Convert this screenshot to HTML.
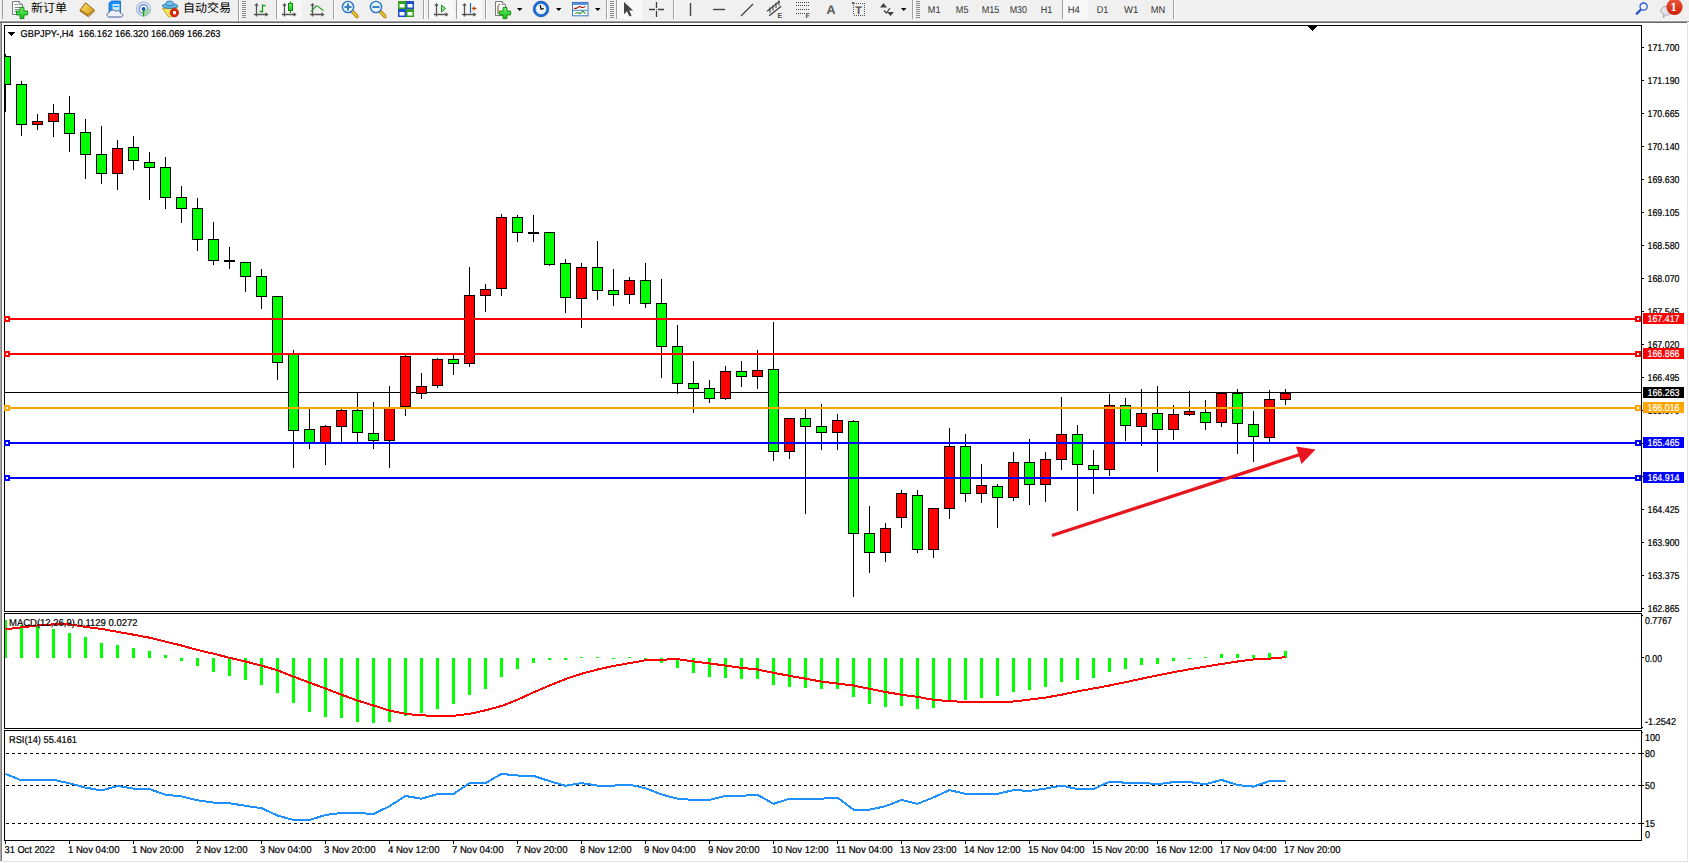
<!DOCTYPE html><html><head><meta charset="utf-8"><title>GBPJPY-,H4</title>
<style>html,body{margin:0;padding:0;background:#fff;overflow:hidden;width:1689px;height:863px}svg{display:block}text{font-family:'Liberation Sans', 'Noto Sans CJK SC', sans-serif;text-rendering:geometricPrecision}</style></head><body>
<svg width="1689" height="863" viewBox="0 0 1689 863">
<rect width="1689" height="863" fill="#fff"/>
<rect x="0" y="0" width="1689" height="21" fill="#f0f0f0"/>
<rect x="0" y="20" width="1689" height="1" fill="#f7f7f7"/>
<rect x="0" y="21" width="1689" height="1" fill="#9c9c9c"/>
<rect x="0" y="22" width="1687" height="1" fill="#6a6a6a"/>
<rect x="0" y="23" width="1" height="838" fill="#a8a8a8"/>
<rect x="1" y="23" width="1" height="838" fill="#7a7a7a"/>
<rect x="1687" y="23" width="1" height="839" fill="#e3e3e3"/>
<rect x="0" y="861" width="1688" height="1" fill="#e3e3e3"/>
<g id="toolbar"><defs><pattern id="dith" width="2" height="2" patternUnits="userSpaceOnUse"><rect width="2" height="2" fill="#f4f4f4"/><rect width="1" height="1" fill="#fdfdfd"/><rect x="1" y="1" width="1" height="1" fill="#fdfdfd"/></pattern><linearGradient id="gplus" x1="0" y1="0" x2="0" y2="1"><stop offset="0" stop-color="#6cf76c"/><stop offset="1" stop-color="#10c010"/></linearGradient><linearGradient id="gold" x1="0" y1="0" x2="1" y2="1"><stop offset="0" stop-color="#fbe36a"/><stop offset="1" stop-color="#d89a10"/></linearGradient><linearGradient id="badge" x1="0" y1="0" x2="0" y2="1"><stop offset="0" stop-color="#e9583a"/><stop offset="1" stop-color="#cf1e08"/></linearGradient><radialGradient id="radar" cx="0.5" cy="0.5" r="0.5"><stop offset="0.3" stop-color="#3a66cc"/><stop offset="1" stop-color="#b8c8e8"/></radialGradient></defs><rect x="2" y="0" width="1" height="19" fill="#a0a0a0"/><path d="M12.5 1.5H19L22.5 4.5V14.5H12.5Z" fill="#fff" stroke="#7a7a7a"/><path d="M19 1.5V4.5H22.5" fill="#ddd" stroke="#7a7a7a" stroke-width="0.8"/><path d="M14.5 4.5h3M14.5 7.5h6M14.5 9.5h5M14.5 11.5h3" stroke="#888" stroke-width="1"/><path d="M20.1 7.4H23.9V11.1H27.6V14.9H23.9V18.6H20.1V14.9H16.4V11.1H20.1Z" fill="url(#gplus)" stroke="#138a13" stroke-width="1"/><text x="31" y="11.8" font-size="12" fill="#000" style="font-family:'Liberation Sans','Noto Sans CJK SC','WenQuanYi Zen Hei',sans-serif">新订单</text><path d="M80 11L88.5 16.8L94.6 11.2L94 9.8L88 15.2L80.2 9.8Z" fill="#f3e2a8" stroke="#9a5a0c" stroke-width="0.9" stroke-linejoin="round"/><path d="M80.2 9.8L85.6 2.8L94 9.8L88 15.2Z" fill="url(#gold)" stroke="#9a5a0c" stroke-width="1" stroke-linejoin="round"/><path d="M109 3L111.5 1H120.5V12H109Z" fill="#1a8ef4" stroke="#0d66c8" stroke-width="0.8"/><path d="M112.5 4H119.5V11H112.5Z" fill="#cfe9ff"/><path d="M113.5 6.5H118.5" stroke="#1a8ef4" stroke-width="1.2"/><path d="M109.5 17C106.3 17 106.3 12.8 109.3 12.6C109.6 9.6 114.2 9 115.3 11.4C117 9.8 120.6 10.6 120.4 13.2C123.6 13.2 123.6 17 120.8 17Z" fill="#eef2f8" stroke="#46609e" stroke-width="1"/><circle cx="143.5" cy="9" r="7" fill="none" stroke="#9ab4e4" stroke-width="1.2"/><circle cx="143.5" cy="9" r="4.4" fill="none" stroke="#5a86d8" stroke-width="1.2"/><path d="M143.5 9L150.6 9A7.1 7.1 0 0 1 143.5 16.1Z" fill="#9cd49c" opacity="0.85"/><circle cx="143.5" cy="9" r="1.9" fill="#1f4fc8"/><path d="M143.5 9.5V16.5" stroke="#18a018" stroke-width="1.4"/><path d="M162.6 8.6L177.6 7.6L171.2 16.8L168.4 16.8Z" fill="#f7e05a" stroke="#c49a14" stroke-width="0.9" stroke-linejoin="round"/><ellipse cx="170" cy="5.9" rx="7.7" ry="2.5" fill="#64b4e4" stroke="#2a7cae" stroke-width="0.9"/><ellipse cx="169.6" cy="3.4" rx="3.7" ry="2.4" fill="#78c4ee" stroke="#2a7cae" stroke-width="0.9"/><circle cx="174.4" cy="12.7" r="4.2" fill="#dc2a0e" stroke="#a81806" stroke-width="0.7"/><rect x="173" y="11.2" width="3" height="3" fill="#fff"/><text x="183" y="11.8" font-size="12" fill="#000" style="font-family:'Liberation Sans','Noto Sans CJK SC','WenQuanYi Zen Hei',sans-serif">自动交易</text><rect x="238" y="0" width="1" height="21" fill="#a0a0a0"/><rect x="239" y="0" width="1" height="21" fill="#fff"/><rect x="242" y="1" width="4" height="1" fill="#8c8c8c"/><rect x="242" y="3" width="4" height="1" fill="#8c8c8c"/><rect x="242" y="5" width="4" height="1" fill="#8c8c8c"/><rect x="242" y="7" width="4" height="1" fill="#8c8c8c"/><rect x="242" y="9" width="4" height="1" fill="#8c8c8c"/><rect x="242" y="11" width="4" height="1" fill="#8c8c8c"/><rect x="242" y="13" width="4" height="1" fill="#8c8c8c"/><rect x="242" y="15" width="4" height="1" fill="#8c8c8c"/><rect x="242" y="17" width="4" height="1" fill="#8c8c8c"/><path d="M256.5 16.5V3.8M254 14.5H267.5" stroke="#555" stroke-width="1.3" fill="none"/><path d="M254.3 5.8L256.5 3L258.7 5.8Z" fill="#555"/><path d="M265.5 12.3L268.5 14.5L265.5 16.7Z" fill="#555"/><path d="M262.5 4.5V12.5M259.5 11.5H262.5M262.5 5.5H265.5" stroke="#1a9a1a" stroke-width="1.3" fill="none"/><rect x="276" y="0" width="1" height="19" fill="#a0a0a0"/><rect x="277" y="0" width="1" height="19" fill="#fff"/><rect x="277" y="0" width="25" height="19" fill="url(#dith)"/><path d="M284.5 16.5V3.8M282 14.5H295.5" stroke="#555" stroke-width="1.3" fill="none"/><path d="M282.3 5.8L284.5 3L286.7 5.8Z" fill="#555"/><path d="M293.5 12.3L296.5 14.5L293.5 16.7Z" fill="#555"/><path d="M290.5 1.5V13" stroke="#138a13" stroke-width="1.2"/><rect x="288.5" y="3.5" width="4" height="7" fill="url(#gplus)" stroke="#138a13" stroke-width="1"/><path d="M312.5 16.5V3.8M310 14.5H323.5" stroke="#555" stroke-width="1.3" fill="none"/><path d="M310.3 5.8L312.5 3L314.7 5.8Z" fill="#555"/><path d="M321.5 12.3L324.5 14.5L321.5 16.7Z" fill="#555"/><path d="M311 11.5C314 8.5 315.5 5.5 317.5 6C319.5 6.5 320.5 9.5 323.5 10.5" stroke="#2a9a2a" stroke-width="1.2" fill="none"/><rect x="333" y="0" width="1" height="19" fill="#a0a0a0"/><rect x="334" y="0" width="1" height="19" fill="#fff"/><line x1="352" y1="11" x2="357" y2="16.5" stroke="#b07800" stroke-width="3.4" stroke-linecap="round"/><line x1="352" y1="11" x2="357" y2="16.5" stroke="#f0d040" stroke-width="1.8" stroke-linecap="round"/><circle cx="348" cy="7" r="5.6" fill="#e4f4ff" stroke="#2a70c8" stroke-width="1.4"/><rect x="344.5" y="6" width="7" height="2" fill="#3a80b8"/><rect x="347" y="3.5" width="2" height="7" fill="#3a80b8"/><line x1="380" y1="11" x2="385" y2="16.5" stroke="#b07800" stroke-width="3.4" stroke-linecap="round"/><line x1="380" y1="11" x2="385" y2="16.5" stroke="#f0d040" stroke-width="1.8" stroke-linecap="round"/><circle cx="376" cy="7" r="5.6" fill="#e4f4ff" stroke="#2a70c8" stroke-width="1.4"/><rect x="372.5" y="6" width="7" height="2" fill="#3a80b8"/><rect x="398" y="1" width="8" height="8" fill="#35a020"/><rect x="399.5" y="4" width="5" height="3.5" fill="#fff"/><rect x="406" y="1" width="8" height="8" fill="#1f4fd0"/><rect x="407.5" y="4" width="5" height="3.5" fill="#fff"/><rect x="398" y="9" width="8" height="8" fill="#1f4fd0"/><rect x="399.5" y="12" width="5" height="3.5" fill="#fff"/><rect x="406" y="9" width="8" height="8" fill="#35a020"/><rect x="407.5" y="12" width="5" height="3.5" fill="#fff"/><rect x="423" y="0" width="1" height="19" fill="#a0a0a0"/><rect x="424" y="0" width="1" height="19" fill="#fff"/><rect x="428" y="0" width="1" height="19" fill="#a0a0a0"/><rect x="429" y="0" width="1" height="19" fill="#fff"/><rect x="429" y="0" width="25" height="19" fill="url(#dith)"/><path d="M436.5 16.5V3.8M434 14.5H447.5" stroke="#555" stroke-width="1.3" fill="none"/><path d="M434.3 5.8L436.5 3L438.7 5.8Z" fill="#555"/><path d="M445.5 12.3L448.5 14.5L445.5 16.7Z" fill="#555"/><path d="M441.5 5L445.5 8.5L441.5 12Z" fill="#8fe08f" stroke="#1a9a1a" stroke-width="1"/><rect x="456" y="0" width="1" height="19" fill="#a0a0a0"/><rect x="457" y="0" width="1" height="19" fill="#fff"/><rect x="457" y="0" width="25" height="19" fill="url(#dith)"/><path d="M464.5 16.5V3.8M462 14.5H475.5" stroke="#555" stroke-width="1.3" fill="none"/><path d="M462.3 5.8L464.5 3L466.7 5.8Z" fill="#555"/><path d="M473.5 12.3L476.5 14.5L473.5 16.7Z" fill="#555"/><path d="M470.5 3V13" stroke="#1b6aa8" stroke-width="1.2"/><path d="M471.5 8.5L474.5 6V11Z" fill="#e0601a"/><path d="M473 8.5H476.5" stroke="#b84a10" stroke-width="1.4"/><rect x="485" y="0" width="1" height="19" fill="#a0a0a0"/><rect x="486" y="0" width="1" height="19" fill="#fff"/><path d="M495.5 1.5H502L505.5 4.5V15.5H495.5Z" fill="#fff" stroke="#7a7a7a"/><path d="M502 1.5V4.5H505.5" fill="#ddd" stroke="#7a7a7a" stroke-width="0.8"/><path d="M500 4.5C498 4.5 498 6 498 8V14" stroke="#5a4a20" stroke-width="1" fill="none"/><path d="M503.1 7.4H506.9V11.1H510.6V14.9H506.9V18.6H503.1V14.9H499.4V11.1H503.1Z" fill="url(#gplus)" stroke="#138a13" stroke-width="1"/><path d="M517 8H522.5L519.75 11Z" fill="#000"/><circle cx="541" cy="9" r="6.6" fill="#f6f6f6" stroke="#1a6cd4" stroke-width="2.6"/><circle cx="541" cy="9" r="7.9" fill="none" stroke="#0b4596" stroke-width="0.6" opacity="0.8"/><circle cx="541" cy="9" r="5.3" fill="none" stroke="#6aa8ee" stroke-width="0.5" opacity="0.6"/><path d="M545 9.5h0.8M536.2 9.5h0.8M541 13.6v0.8M538 6l0.5 0.5M544 6l-0.5 0.5M538 12.5l0.5-0.5M544 12.5l-0.5-0.5" stroke="#a0a0a0" stroke-width="0.8"/><path d="M540.3 5.2L541 9.2L543.8 8.6" stroke="#111" stroke-width="1.3" fill="none" stroke-linejoin="round"/><path d="M556 8H561.5L558.75 11Z" fill="#000"/><rect x="572.5" y="2.5" width="15.5" height="13.3" fill="#fff" stroke="#3a78c4" stroke-width="1"/><rect x="573" y="3" width="14.5" height="2" fill="#5a94dc"/><path d="M573 10.3H587.5" stroke="#3a78c4" stroke-width="1"/><path d="M574 8.4L576.3 8.4L577.7 7.3L580 6.4L581.4 7.5L583.2 7.5L585.4 6.4" stroke="#a01808" stroke-width="1.1" fill="none"/><path d="M575.2 13.6L577.7 12.5L580 13.6L582.9 11.2L585.4 13.6" stroke="#16901a" stroke-width="1.1" fill="none"/><path d="M595 8H600.5L597.75 11Z" fill="#000"/><rect x="606" y="0" width="1" height="19" fill="#a0a0a0"/><rect x="607" y="0" width="1" height="19" fill="#fff"/><rect x="610" y="1" width="4" height="1" fill="#8c8c8c"/><rect x="610" y="3" width="4" height="1" fill="#8c8c8c"/><rect x="610" y="5" width="4" height="1" fill="#8c8c8c"/><rect x="610" y="7" width="4" height="1" fill="#8c8c8c"/><rect x="610" y="9" width="4" height="1" fill="#8c8c8c"/><rect x="610" y="11" width="4" height="1" fill="#8c8c8c"/><rect x="610" y="13" width="4" height="1" fill="#8c8c8c"/><rect x="610" y="15" width="4" height="1" fill="#8c8c8c"/><rect x="610" y="17" width="4" height="1" fill="#8c8c8c"/><rect x="616" y="0" width="1" height="19" fill="#a0a0a0"/><rect x="617" y="0" width="1" height="19" fill="#fff"/><rect x="617" y="0" width="25" height="19" fill="url(#dith)"/><path d="M624 2V14.2L627 11.3L629.4 16.6L631.6 15.6L629.2 10.4H633.2Z" fill="#444"/><path d="M649 9.5H655M658 9.5H664M656.5 2V8M656.5 11V17" stroke="#3c3c3c" stroke-width="1.3"/><rect x="656" y="9" width="1" height="1" fill="#555"/><rect x="673" y="0" width="1" height="19" fill="#a0a0a0"/><rect x="674" y="0" width="1" height="19" fill="#fff"/><path d="M690.5 3V16" stroke="#444" stroke-width="1.4"/><path d="M713 9.5H725" stroke="#444" stroke-width="1.4"/><path d="M741 16L753 4" stroke="#444" stroke-width="1.3"/><path d="M767 11.2L779.5 1.2M769.2 15.8L781.2 6.2" stroke="#444" stroke-width="1.3"/><path d="M770 12.8V7.6M773 10.4V5.2M776 8V2.8M779 5.6V0.6" stroke="#444" stroke-width="1.1"/><text x="777.6" y="17.8" font-size="7" font-weight="bold" fill="#444" style="font-family:'Liberation Sans',sans-serif;font-weight:bold">E</text><path d="M796 2.5H809M796 5.5H809M796 9.5H809M796 13.5H805" stroke="#444" stroke-width="1" stroke-dasharray="1 1"/><text x="805.5" y="17.8" font-size="7" font-weight="bold" fill="#444" font-family="Liberation Sans, Arial, sans-serif">F</text><text x="826.6" y="14.2" font-size="12.5" fill="#555" style="font-weight:bold">A</text><g fill="#555" shape-rendering="crispEdges"><rect x="854" y="3" width="1" height="1"/><rect x="854" y="15" width="1" height="1"/><rect x="856" y="3" width="1" height="1"/><rect x="856" y="15" width="1" height="1"/><rect x="858" y="3" width="1" height="1"/><rect x="858" y="15" width="1" height="1"/><rect x="860" y="3" width="1" height="1"/><rect x="860" y="15" width="1" height="1"/><rect x="862" y="3" width="1" height="1"/><rect x="862" y="15" width="1" height="1"/><rect x="864" y="3" width="1" height="1"/><rect x="864" y="15" width="1" height="1"/><rect x="853" y="5" width="1" height="1"/><rect x="864" y="5" width="1" height="1"/><rect x="853" y="7" width="1" height="1"/><rect x="864" y="7" width="1" height="1"/><rect x="853" y="9" width="1" height="1"/><rect x="864" y="9" width="1" height="1"/><rect x="853" y="11" width="1" height="1"/><rect x="864" y="11" width="1" height="1"/><rect x="853" y="13" width="1" height="1"/><rect x="864" y="13" width="1" height="1"/><rect x="852" y="2" width="2" height="2"/></g><text x="855.2" y="13.9" font-size="11" fill="#555" style="font-weight:bold">T</text><path d="M880 7.5L883.5 3L887 7.5Z" fill="#444"/><path d="M884 10.5L886.5 13L890 8" stroke="#444" stroke-width="1.3" fill="none"/><path d="M887 12L894 12L890.5 16Z" fill="#444"/><path d="M901 8H906.5L903.75 11Z" fill="#000"/><rect x="912" y="0" width="1" height="19" fill="#a0a0a0"/><rect x="913" y="0" width="1" height="19" fill="#fff"/><rect x="916" y="1" width="4" height="1" fill="#8c8c8c"/><rect x="916" y="3" width="4" height="1" fill="#8c8c8c"/><rect x="916" y="5" width="4" height="1" fill="#8c8c8c"/><rect x="916" y="7" width="4" height="1" fill="#8c8c8c"/><rect x="916" y="9" width="4" height="1" fill="#8c8c8c"/><rect x="916" y="11" width="4" height="1" fill="#8c8c8c"/><rect x="916" y="13" width="4" height="1" fill="#8c8c8c"/><rect x="916" y="15" width="4" height="1" fill="#8c8c8c"/><rect x="916" y="17" width="4" height="1" fill="#8c8c8c"/><text x="927.8" y="13.3" font-size="10" fill="#303030" textLength="12.7" lengthAdjust="spacingAndGlyphs">M1</text><text x="955.8" y="13.3" font-size="10" fill="#303030" textLength="12.7" lengthAdjust="spacingAndGlyphs">M5</text><text x="981.7" y="13.3" font-size="10" fill="#303030" textLength="17.7" lengthAdjust="spacingAndGlyphs">M15</text><text x="1009.7" y="13.3" font-size="10" fill="#303030" textLength="17.3" lengthAdjust="spacingAndGlyphs">M30</text><text x="1040.8" y="13.3" font-size="10" fill="#303030" textLength="11.6" lengthAdjust="spacingAndGlyphs">H1</text><rect x="1062" y="0" width="1" height="19" fill="#a0a0a0"/><rect x="1063" y="0" width="1" height="19" fill="#fff"/><rect x="1063" y="0" width="25" height="19" fill="url(#dith)"/><text x="1067.8" y="13.3" font-size="10" fill="#303030" textLength="12" lengthAdjust="spacingAndGlyphs">H4</text><text x="1096.8" y="13.3" font-size="10" fill="#303030" textLength="11.6" lengthAdjust="spacingAndGlyphs">D1</text><text x="1124" y="13.3" font-size="10" fill="#303030" textLength="14.3" lengthAdjust="spacingAndGlyphs">W1</text><text x="1150.8" y="13.3" font-size="10" fill="#303030" textLength="14.5" lengthAdjust="spacingAndGlyphs">MN</text><rect x="1173" y="0" width="1" height="19" fill="#a0a0a0"/><rect x="1174" y="0" width="1" height="19" fill="#fff"/><path d="M1641 9.5L1636.8 13.6" stroke="#2a56c8" stroke-width="2.4" stroke-linecap="round"/><circle cx="1643.6" cy="6.6" r="3.6" fill="#f6f6ff" stroke="#2a5ad0" stroke-width="1.3"/><path d="M1663.2 17.6L1664 14.4C1660.6 13.6 1659.8 9.2 1662.6 7.4C1665.6 5.4 1671.2 6.2 1672 10C1672.6 13.4 1669.2 15 1666.2 14.8Z" fill="#e2e2ea" stroke="#9a9a9a" stroke-width="0.9"/><circle cx="1674.5" cy="6.9" r="8.1" fill="url(#badge)"/><text x="1673.5" y="11.3" font-size="12.5" fill="#fff" text-anchor="middle" style="font-family:'Liberation Serif',serif;font-weight:bold">1</text></g>
<defs><clipPath id="cm"><rect x="5" y="26" width="1636" height="585"/></clipPath><clipPath id="cd"><rect x="5" y="614" width="1636" height="114"/></clipPath><clipPath id="cr"><rect x="5" y="731" width="1636" height="109"/></clipPath></defs>
<g clip-path="url(#cm)" shape-rendering="crispEdges"><rect x="5" y="392" width="1636" height="1" fill="#000"/><rect x="5" y="54" width="1" height="58" fill="#000"/><rect x="0" y="56" width="11" height="29" fill="#000"/><rect x="1" y="57" width="9" height="27" fill="#00ff00"/><rect x="21" y="81" width="1" height="55" fill="#000"/><rect x="16" y="84" width="11" height="41" fill="#000"/><rect x="17" y="85" width="9" height="39" fill="#00ff00"/><rect x="37" y="114" width="1" height="16" fill="#000"/><rect x="32" y="121" width="11" height="4" fill="#000"/><rect x="33" y="122" width="9" height="2" fill="#ff0000"/><rect x="53" y="104" width="1" height="33" fill="#000"/><rect x="48" y="113" width="11" height="9" fill="#000"/><rect x="49" y="114" width="9" height="7" fill="#ff0000"/><rect x="69" y="96" width="1" height="56" fill="#000"/><rect x="64" y="113" width="11" height="21" fill="#000"/><rect x="65" y="114" width="9" height="19" fill="#00ff00"/><rect x="85" y="119" width="1" height="60" fill="#000"/><rect x="80" y="132" width="11" height="23" fill="#000"/><rect x="81" y="133" width="9" height="21" fill="#00ff00"/><rect x="101" y="126" width="1" height="58" fill="#000"/><rect x="96" y="154" width="11" height="20" fill="#000"/><rect x="97" y="155" width="9" height="18" fill="#00ff00"/><rect x="117" y="140" width="1" height="50" fill="#000"/><rect x="112" y="148" width="11" height="26" fill="#000"/><rect x="113" y="149" width="9" height="24" fill="#ff0000"/><rect x="133" y="136" width="1" height="34" fill="#000"/><rect x="128" y="147" width="11" height="14" fill="#000"/><rect x="129" y="148" width="9" height="12" fill="#00ff00"/><rect x="149" y="152" width="1" height="48" fill="#000"/><rect x="144" y="162" width="11" height="6" fill="#000"/><rect x="145" y="163" width="9" height="4" fill="#00ff00"/><rect x="165" y="157" width="1" height="52" fill="#000"/><rect x="160" y="167" width="11" height="31" fill="#000"/><rect x="161" y="168" width="9" height="29" fill="#00ff00"/><rect x="181" y="186" width="1" height="37" fill="#000"/><rect x="176" y="197" width="11" height="12" fill="#000"/><rect x="177" y="198" width="9" height="10" fill="#00ff00"/><rect x="197" y="198" width="1" height="53" fill="#000"/><rect x="192" y="208" width="11" height="32" fill="#000"/><rect x="193" y="209" width="9" height="30" fill="#00ff00"/><rect x="213" y="222" width="1" height="43" fill="#000"/><rect x="208" y="239" width="11" height="22" fill="#000"/><rect x="209" y="240" width="9" height="20" fill="#00ff00"/><rect x="229" y="247" width="1" height="22" fill="#000"/><rect x="224" y="260" width="11" height="2" fill="#000"/><rect x="245" y="262" width="1" height="30" fill="#000"/><rect x="240" y="262" width="11" height="15" fill="#000"/><rect x="241" y="263" width="9" height="13" fill="#00ff00"/><rect x="261" y="269" width="1" height="40" fill="#000"/><rect x="256" y="276" width="11" height="21" fill="#000"/><rect x="257" y="277" width="9" height="19" fill="#00ff00"/><rect x="277" y="296" width="1" height="84" fill="#000"/><rect x="272" y="296" width="11" height="67" fill="#000"/><rect x="273" y="297" width="9" height="65" fill="#00ff00"/><rect x="293" y="350" width="1" height="118" fill="#000"/><rect x="288" y="354" width="11" height="77" fill="#000"/><rect x="289" y="355" width="9" height="75" fill="#00ff00"/><rect x="309" y="409" width="1" height="40" fill="#000"/><rect x="304" y="429" width="11" height="14" fill="#000"/><rect x="305" y="430" width="9" height="12" fill="#00ff00"/><rect x="325" y="425" width="1" height="40" fill="#000"/><rect x="320" y="426" width="11" height="17" fill="#000"/><rect x="321" y="427" width="9" height="15" fill="#ff0000"/><rect x="341" y="409" width="1" height="33" fill="#000"/><rect x="336" y="410" width="11" height="17" fill="#000"/><rect x="337" y="411" width="9" height="15" fill="#ff0000"/><rect x="357" y="392" width="1" height="50" fill="#000"/><rect x="352" y="410" width="11" height="23" fill="#000"/><rect x="353" y="411" width="9" height="21" fill="#00ff00"/><rect x="373" y="402" width="1" height="47" fill="#000"/><rect x="368" y="433" width="11" height="8" fill="#000"/><rect x="369" y="434" width="9" height="6" fill="#00ff00"/><rect x="389" y="386" width="1" height="82" fill="#000"/><rect x="384" y="407" width="11" height="34" fill="#000"/><rect x="385" y="408" width="9" height="32" fill="#ff0000"/><rect x="405" y="355" width="1" height="61" fill="#000"/><rect x="400" y="356" width="11" height="51" fill="#000"/><rect x="401" y="357" width="9" height="49" fill="#ff0000"/><rect x="421" y="373" width="1" height="26" fill="#000"/><rect x="416" y="386" width="11" height="8" fill="#000"/><rect x="417" y="387" width="9" height="6" fill="#ff0000"/><rect x="437" y="358" width="1" height="30" fill="#000"/><rect x="432" y="359" width="11" height="27" fill="#000"/><rect x="433" y="360" width="9" height="25" fill="#ff0000"/><rect x="453" y="355" width="1" height="20" fill="#000"/><rect x="448" y="359" width="11" height="5" fill="#000"/><rect x="449" y="360" width="9" height="3" fill="#00ff00"/><rect x="469" y="267" width="1" height="100" fill="#000"/><rect x="464" y="295" width="11" height="69" fill="#000"/><rect x="465" y="296" width="9" height="67" fill="#ff0000"/><rect x="485" y="284" width="1" height="28" fill="#000"/><rect x="480" y="289" width="11" height="7" fill="#000"/><rect x="481" y="290" width="9" height="5" fill="#ff0000"/><rect x="501" y="214" width="1" height="82" fill="#000"/><rect x="496" y="217" width="11" height="72" fill="#000"/><rect x="497" y="218" width="9" height="70" fill="#ff0000"/><rect x="517" y="215" width="1" height="27" fill="#000"/><rect x="512" y="217" width="11" height="16" fill="#000"/><rect x="513" y="218" width="9" height="14" fill="#00ff00"/><rect x="533" y="215" width="1" height="27" fill="#000"/><rect x="528" y="232" width="11" height="2" fill="#000"/><rect x="549" y="233" width="1" height="33" fill="#000"/><rect x="544" y="232" width="11" height="33" fill="#000"/><rect x="545" y="233" width="9" height="31" fill="#00ff00"/><rect x="565" y="259" width="1" height="54" fill="#000"/><rect x="560" y="263" width="11" height="35" fill="#000"/><rect x="561" y="264" width="9" height="33" fill="#00ff00"/><rect x="581" y="263" width="1" height="65" fill="#000"/><rect x="576" y="267" width="11" height="32" fill="#000"/><rect x="577" y="268" width="9" height="30" fill="#ff0000"/><rect x="597" y="241" width="1" height="59" fill="#000"/><rect x="592" y="267" width="11" height="24" fill="#000"/><rect x="593" y="268" width="9" height="22" fill="#00ff00"/><rect x="613" y="269" width="1" height="37" fill="#000"/><rect x="608" y="290" width="11" height="5" fill="#000"/><rect x="609" y="291" width="9" height="3" fill="#00ff00"/><rect x="629" y="277" width="1" height="27" fill="#000"/><rect x="624" y="280" width="11" height="15" fill="#000"/><rect x="625" y="281" width="9" height="13" fill="#ff0000"/><rect x="645" y="263" width="1" height="45" fill="#000"/><rect x="640" y="280" width="11" height="24" fill="#000"/><rect x="641" y="281" width="9" height="22" fill="#00ff00"/><rect x="661" y="279" width="1" height="99" fill="#000"/><rect x="656" y="303" width="11" height="44" fill="#000"/><rect x="657" y="304" width="9" height="42" fill="#00ff00"/><rect x="677" y="325" width="1" height="69" fill="#000"/><rect x="672" y="346" width="11" height="38" fill="#000"/><rect x="673" y="347" width="9" height="36" fill="#00ff00"/><rect x="693" y="361" width="1" height="52" fill="#000"/><rect x="688" y="383" width="11" height="6" fill="#000"/><rect x="689" y="384" width="9" height="4" fill="#00ff00"/><rect x="709" y="380" width="1" height="23" fill="#000"/><rect x="704" y="388" width="11" height="11" fill="#000"/><rect x="705" y="389" width="9" height="9" fill="#00ff00"/><rect x="725" y="366" width="1" height="34" fill="#000"/><rect x="720" y="371" width="11" height="28" fill="#000"/><rect x="721" y="372" width="9" height="26" fill="#ff0000"/><rect x="741" y="361" width="1" height="26" fill="#000"/><rect x="736" y="371" width="11" height="6" fill="#000"/><rect x="737" y="372" width="9" height="4" fill="#00ff00"/><rect x="757" y="350" width="1" height="39" fill="#000"/><rect x="752" y="370" width="11" height="7" fill="#000"/><rect x="753" y="371" width="9" height="5" fill="#ff0000"/><rect x="773" y="322" width="1" height="139" fill="#000"/><rect x="768" y="369" width="11" height="83" fill="#000"/><rect x="769" y="370" width="9" height="81" fill="#00ff00"/><rect x="789" y="418" width="1" height="41" fill="#000"/><rect x="784" y="418" width="11" height="34" fill="#000"/><rect x="785" y="419" width="9" height="32" fill="#ff0000"/><rect x="805" y="409" width="1" height="105" fill="#000"/><rect x="800" y="418" width="11" height="9" fill="#000"/><rect x="801" y="419" width="9" height="7" fill="#00ff00"/><rect x="821" y="404" width="1" height="46" fill="#000"/><rect x="816" y="426" width="11" height="7" fill="#000"/><rect x="817" y="427" width="9" height="5" fill="#00ff00"/><rect x="837" y="414" width="1" height="36" fill="#000"/><rect x="832" y="420" width="11" height="13" fill="#000"/><rect x="833" y="421" width="9" height="11" fill="#ff0000"/><rect x="853" y="420" width="1" height="177" fill="#000"/><rect x="848" y="421" width="11" height="113" fill="#000"/><rect x="849" y="422" width="9" height="111" fill="#00ff00"/><rect x="869" y="506" width="1" height="67" fill="#000"/><rect x="864" y="533" width="11" height="20" fill="#000"/><rect x="865" y="534" width="9" height="18" fill="#00ff00"/><rect x="885" y="523" width="1" height="39" fill="#000"/><rect x="880" y="528" width="11" height="25" fill="#000"/><rect x="881" y="529" width="9" height="23" fill="#ff0000"/><rect x="901" y="490" width="1" height="38" fill="#000"/><rect x="896" y="493" width="11" height="25" fill="#000"/><rect x="897" y="494" width="9" height="23" fill="#ff0000"/><rect x="917" y="490" width="1" height="63" fill="#000"/><rect x="912" y="495" width="11" height="55" fill="#000"/><rect x="913" y="496" width="9" height="53" fill="#00ff00"/><rect x="933" y="509" width="1" height="49" fill="#000"/><rect x="928" y="508" width="11" height="42" fill="#000"/><rect x="929" y="509" width="9" height="40" fill="#ff0000"/><rect x="949" y="428" width="1" height="91" fill="#000"/><rect x="944" y="446" width="11" height="63" fill="#000"/><rect x="945" y="447" width="9" height="61" fill="#ff0000"/><rect x="965" y="434" width="1" height="68" fill="#000"/><rect x="960" y="446" width="11" height="48" fill="#000"/><rect x="961" y="447" width="9" height="46" fill="#00ff00"/><rect x="981" y="464" width="1" height="39" fill="#000"/><rect x="976" y="485" width="11" height="9" fill="#000"/><rect x="977" y="486" width="9" height="7" fill="#ff0000"/><rect x="997" y="484" width="1" height="44" fill="#000"/><rect x="992" y="486" width="11" height="12" fill="#000"/><rect x="993" y="487" width="9" height="10" fill="#00ff00"/><rect x="1013" y="452" width="1" height="49" fill="#000"/><rect x="1008" y="462" width="11" height="36" fill="#000"/><rect x="1009" y="463" width="9" height="34" fill="#ff0000"/><rect x="1029" y="439" width="1" height="66" fill="#000"/><rect x="1024" y="462" width="11" height="23" fill="#000"/><rect x="1025" y="463" width="9" height="21" fill="#00ff00"/><rect x="1045" y="452" width="1" height="50" fill="#000"/><rect x="1040" y="459" width="11" height="26" fill="#000"/><rect x="1041" y="460" width="9" height="24" fill="#ff0000"/><rect x="1061" y="397" width="1" height="73" fill="#000"/><rect x="1056" y="434" width="11" height="26" fill="#000"/><rect x="1057" y="435" width="9" height="24" fill="#ff0000"/><rect x="1077" y="425" width="1" height="86" fill="#000"/><rect x="1072" y="434" width="11" height="31" fill="#000"/><rect x="1073" y="435" width="9" height="29" fill="#00ff00"/><rect x="1093" y="450" width="1" height="44" fill="#000"/><rect x="1088" y="465" width="11" height="5" fill="#000"/><rect x="1089" y="466" width="9" height="3" fill="#00ff00"/><rect x="1109" y="394" width="1" height="82" fill="#000"/><rect x="1104" y="405" width="11" height="65" fill="#000"/><rect x="1105" y="406" width="9" height="63" fill="#ff0000"/><rect x="1125" y="398" width="1" height="43" fill="#000"/><rect x="1120" y="405" width="11" height="21" fill="#000"/><rect x="1121" y="406" width="9" height="19" fill="#00ff00"/><rect x="1141" y="389" width="1" height="57" fill="#000"/><rect x="1136" y="413" width="11" height="14" fill="#000"/><rect x="1137" y="414" width="9" height="12" fill="#ff0000"/><rect x="1157" y="386" width="1" height="86" fill="#000"/><rect x="1152" y="413" width="11" height="17" fill="#000"/><rect x="1153" y="414" width="9" height="15" fill="#00ff00"/><rect x="1173" y="405" width="1" height="35" fill="#000"/><rect x="1168" y="414" width="11" height="16" fill="#000"/><rect x="1169" y="415" width="9" height="14" fill="#ff0000"/><rect x="1189" y="391" width="1" height="25" fill="#000"/><rect x="1184" y="411" width="11" height="4" fill="#000"/><rect x="1185" y="412" width="9" height="2" fill="#ff0000"/><rect x="1205" y="400" width="1" height="30" fill="#000"/><rect x="1200" y="412" width="11" height="11" fill="#000"/><rect x="1201" y="413" width="9" height="9" fill="#00ff00"/><rect x="1221" y="393" width="1" height="34" fill="#000"/><rect x="1216" y="393" width="11" height="30" fill="#000"/><rect x="1217" y="394" width="9" height="28" fill="#ff0000"/><rect x="1237" y="389" width="1" height="65" fill="#000"/><rect x="1232" y="393" width="11" height="31" fill="#000"/><rect x="1233" y="394" width="9" height="29" fill="#00ff00"/><rect x="1253" y="411" width="1" height="51" fill="#000"/><rect x="1248" y="424" width="11" height="13" fill="#000"/><rect x="1249" y="425" width="9" height="11" fill="#00ff00"/><rect x="1269" y="390" width="1" height="52" fill="#000"/><rect x="1264" y="399" width="11" height="39" fill="#000"/><rect x="1265" y="400" width="9" height="37" fill="#ff0000"/><rect x="1285" y="389" width="1" height="16" fill="#000"/><rect x="1280" y="393" width="11" height="7" fill="#000"/><rect x="1281" y="394" width="9" height="5" fill="#ff0000"/><rect x="5" y="318" width="1636" height="2" fill="#ff0000"/><rect x="1635" y="316" width="6" height="6" fill="#ff0000"/><rect x="1637" y="318" width="2" height="2" fill="#fff"/><rect x="5" y="353" width="1636" height="2" fill="#ff0000"/><rect x="1635" y="351" width="6" height="6" fill="#ff0000"/><rect x="1637" y="353" width="2" height="2" fill="#fff"/><rect x="5" y="407" width="1636" height="2" fill="#ffa500"/><rect x="1635" y="405" width="6" height="6" fill="#ffa500"/><rect x="1637" y="407" width="2" height="2" fill="#fff"/><rect x="5" y="442" width="1636" height="2" fill="#0000ff"/><rect x="1635" y="440" width="6" height="6" fill="#0000ff"/><rect x="1637" y="442" width="2" height="2" fill="#fff"/><rect x="5" y="477" width="1636" height="2" fill="#0000ff"/><rect x="1635" y="475" width="6" height="6" fill="#0000ff"/><rect x="1637" y="477" width="2" height="2" fill="#fff"/></g>
<g clip-path="url(#cm)"><line x1="1052" y1="535.5" x2="1300" y2="454.5" stroke="#e8141e" stroke-width="3.3"/><polygon points="1296,446.5 1315.5,449.5 1301.5,464" fill="#e8141e"/></g>
<g clip-path="url(#cd)"><rect x="4" y="620" width="3" height="38" fill="#00ff00"/><rect x="20" y="625" width="3" height="33" fill="#00ff00"/><rect x="36" y="626" width="3" height="32" fill="#00ff00"/><rect x="52" y="629" width="3" height="29" fill="#00ff00"/><rect x="68" y="633" width="3" height="25" fill="#00ff00"/><rect x="84" y="637" width="3" height="21" fill="#00ff00"/><rect x="100" y="643" width="3" height="15" fill="#00ff00"/><rect x="116" y="645" width="3" height="13" fill="#00ff00"/><rect x="132" y="648" width="3" height="10" fill="#00ff00"/><rect x="148" y="651" width="3" height="7" fill="#00ff00"/><rect x="164" y="655" width="3" height="3" fill="#00ff00"/><rect x="180" y="658" width="3" height="3" fill="#00ff00"/><rect x="196" y="658" width="3" height="8" fill="#00ff00"/><rect x="212" y="658" width="3" height="14" fill="#00ff00"/><rect x="228" y="658" width="3" height="18" fill="#00ff00"/><rect x="244" y="658" width="3" height="22" fill="#00ff00"/><rect x="260" y="658" width="3" height="27" fill="#00ff00"/><rect x="276" y="658" width="3" height="35" fill="#00ff00"/><rect x="292" y="658" width="3" height="45" fill="#00ff00"/><rect x="308" y="658" width="3" height="54" fill="#00ff00"/><rect x="324" y="658" width="3" height="59" fill="#00ff00"/><rect x="340" y="658" width="3" height="60" fill="#00ff00"/><rect x="356" y="658" width="3" height="64" fill="#00ff00"/><rect x="372" y="658" width="3" height="65" fill="#00ff00"/><rect x="388" y="658" width="3" height="64" fill="#00ff00"/><rect x="404" y="658" width="3" height="58" fill="#00ff00"/><rect x="420" y="658" width="3" height="55" fill="#00ff00"/><rect x="436" y="658" width="3" height="51" fill="#00ff00"/><rect x="452" y="658" width="3" height="46" fill="#00ff00"/><rect x="468" y="658" width="3" height="37" fill="#00ff00"/><rect x="484" y="658" width="3" height="31" fill="#00ff00"/><rect x="500" y="658" width="3" height="19" fill="#00ff00"/><rect x="516" y="658" width="3" height="11" fill="#00ff00"/><rect x="532" y="658" width="3" height="5" fill="#00ff00"/><rect x="548" y="658" width="3" height="2" fill="#00ff00"/><rect x="564" y="658" width="3" height="2" fill="#00ff00"/><rect x="580" y="657" width="3" height="1" fill="#00ff00"/><rect x="596" y="657" width="3" height="1" fill="#00ff00"/><rect x="612" y="658" width="3" height="1" fill="#00ff00"/><rect x="628" y="657" width="3" height="1" fill="#00ff00"/><rect x="644" y="658" width="3" height="1" fill="#00ff00"/><rect x="660" y="658" width="3" height="5" fill="#00ff00"/><rect x="676" y="658" width="3" height="10" fill="#00ff00"/><rect x="692" y="658" width="3" height="15" fill="#00ff00"/><rect x="708" y="658" width="3" height="19" fill="#00ff00"/><rect x="724" y="658" width="3" height="20" fill="#00ff00"/><rect x="740" y="658" width="3" height="21" fill="#00ff00"/><rect x="756" y="658" width="3" height="21" fill="#00ff00"/><rect x="772" y="658" width="3" height="27" fill="#00ff00"/><rect x="788" y="658" width="3" height="29" fill="#00ff00"/><rect x="804" y="658" width="3" height="30" fill="#00ff00"/><rect x="820" y="658" width="3" height="31" fill="#00ff00"/><rect x="836" y="658" width="3" height="31" fill="#00ff00"/><rect x="852" y="658" width="3" height="39" fill="#00ff00"/><rect x="868" y="658" width="3" height="46" fill="#00ff00"/><rect x="884" y="658" width="3" height="49" fill="#00ff00"/><rect x="900" y="658" width="3" height="48" fill="#00ff00"/><rect x="916" y="658" width="3" height="51" fill="#00ff00"/><rect x="932" y="658" width="3" height="50" fill="#00ff00"/><rect x="948" y="658" width="3" height="43" fill="#00ff00"/><rect x="964" y="658" width="3" height="42" fill="#00ff00"/><rect x="980" y="658" width="3" height="40" fill="#00ff00"/><rect x="996" y="658" width="3" height="38" fill="#00ff00"/><rect x="1012" y="658" width="3" height="34" fill="#00ff00"/><rect x="1028" y="658" width="3" height="32" fill="#00ff00"/><rect x="1044" y="658" width="3" height="29" fill="#00ff00"/><rect x="1060" y="658" width="3" height="24" fill="#00ff00"/><rect x="1076" y="658" width="3" height="22" fill="#00ff00"/><rect x="1092" y="658" width="3" height="20" fill="#00ff00"/><rect x="1108" y="658" width="3" height="14" fill="#00ff00"/><rect x="1124" y="658" width="3" height="11" fill="#00ff00"/><rect x="1140" y="658" width="3" height="7" fill="#00ff00"/><rect x="1156" y="658" width="3" height="6" fill="#00ff00"/><rect x="1172" y="658" width="3" height="3" fill="#00ff00"/><rect x="1188" y="658" width="3" height="1" fill="#00ff00"/><rect x="1204" y="657" width="3" height="1" fill="#00ff00"/><rect x="1220" y="654" width="3" height="4" fill="#00ff00"/><rect x="1236" y="654" width="3" height="4" fill="#00ff00"/><rect x="1252" y="655" width="3" height="3" fill="#00ff00"/><rect x="1268" y="653" width="3" height="5" fill="#00ff00"/><rect x="1284" y="651" width="3" height="7" fill="#00ff00"/><polyline points="5.5,629.3 21.5,627.3 37.5,625.5 53.5,624.3 69.5,624.3 85.5,626.9 101.5,628.9 117.5,631.8 133.5,634.7 149.5,637.7 165.5,641.6 181.5,645.5 197.5,650.0 213.5,653.7 229.5,657.8 245.5,661.5 261.5,665.6 277.5,670.3 293.5,676.7 309.5,682.6 325.5,688.5 341.5,694.7 357.5,700.6 373.5,705.5 389.5,710.5 405.5,713.9 421.5,715.4 437.5,715.8 453.5,715.8 469.5,713.9 485.5,710.3 501.5,706.0 517.5,699.8 533.5,692.3 549.5,685.5 565.5,679.1 581.5,673.8 597.5,669.5 613.5,666.0 629.5,663.1 645.5,660.3 661.5,659.7 677.5,659.1 693.5,661.5 709.5,663.4 725.5,665.6 741.5,667.9 757.5,669.5 773.5,672.8 789.5,675.8 805.5,678.7 821.5,681.6 837.5,683.6 853.5,685.5 869.5,688.8 885.5,692.0 901.5,694.7 917.5,696.9 933.5,699.8 949.5,701.2 965.5,701.9 981.5,702.1 997.5,702.1 1013.5,701.5 1029.5,699.6 1045.5,697.6 1061.5,694.7 1077.5,691.4 1093.5,688.5 1109.5,685.5 1125.5,682.2 1141.5,678.7 1157.5,675.4 1173.5,672.2 1189.5,669.3 1205.5,666.6 1221.5,664.0 1237.5,661.5 1253.5,659.5 1269.5,658.6 1285.5,657.2" fill="none" stroke="#ff0000" stroke-width="2" stroke-linejoin="round" shape-rendering="crispEdges"/></g>
<g clip-path="url(#cr)"><line x1="6" y1="753.5" x2="1641" y2="753.5" stroke="#000" stroke-width="1" stroke-dasharray="3 3"/><line x1="6" y1="785.5" x2="1641" y2="785.5" stroke="#000" stroke-width="1" stroke-dasharray="3 3"/><line x1="6" y1="823.5" x2="1641" y2="823.5" stroke="#000" stroke-width="1" stroke-dasharray="3 3"/><polyline points="5.5,773.9 21.5,780.4 37.5,780.4 53.5,779.8 69.5,783.3 85.5,787.6 101.5,790.5 117.5,786.0 133.5,788.6 149.5,789.0 165.5,794.8 181.5,796.4 197.5,800.3 213.5,802.6 229.5,803.2 245.5,805.8 261.5,808.1 277.5,815.5 293.5,820.0 309.5,820.0 325.5,815.0 341.5,813.0 357.5,813.0 373.5,814.0 389.5,806.2 405.5,796.0 421.5,798.7 437.5,794.0 453.5,794.0 469.5,783.1 485.5,783.1 501.5,773.9 517.5,775.5 533.5,775.9 549.5,781.1 565.5,785.8 581.5,783.1 597.5,785.6 613.5,785.6 629.5,784.7 645.5,788.2 661.5,794.4 677.5,798.7 693.5,799.9 709.5,799.9 725.5,795.8 741.5,795.8 757.5,794.8 773.5,803.8 789.5,798.7 805.5,798.7 821.5,798.7 837.5,797.6 853.5,809.7 869.5,809.7 885.5,806.2 901.5,799.9 917.5,803.8 933.5,797.4 949.5,790.1 965.5,793.8 981.5,793.8 997.5,793.8 1013.5,790.1 1029.5,790.9 1045.5,788.6 1061.5,785.6 1077.5,789.0 1093.5,789.0 1109.5,781.7 1125.5,782.7 1141.5,782.7 1157.5,784.3 1173.5,782.1 1189.5,782.1 1205.5,784.3 1221.5,779.8 1237.5,785.1 1253.5,786.6 1269.5,781.1 1285.5,780.8" fill="none" stroke="#1e90ff" stroke-width="2" stroke-linejoin="round" shape-rendering="crispEdges"/></g>
<g shape-rendering="crispEdges"><rect x="4.5" y="25.5" width="1637" height="586" fill="none" stroke="#000"/></g>
<g shape-rendering="crispEdges"><rect x="4.5" y="613.5" width="1637" height="115" fill="none" stroke="#000"/></g>
<g shape-rendering="crispEdges"><rect x="4.5" y="730.5" width="1637" height="110" fill="none" stroke="#000"/></g>
<g shape-rendering="crispEdges"><rect x="4" y="316" width="6" height="6" fill="#ff0000"/><rect x="6" y="318" width="2" height="2" fill="#fff"/></g>
<g shape-rendering="crispEdges"><rect x="4" y="351" width="6" height="6" fill="#ff0000"/><rect x="6" y="353" width="2" height="2" fill="#fff"/></g>
<g shape-rendering="crispEdges"><rect x="4" y="405" width="6" height="6" fill="#ffa500"/><rect x="6" y="407" width="2" height="2" fill="#fff"/></g>
<g shape-rendering="crispEdges"><rect x="4" y="440" width="6" height="6" fill="#0000ff"/><rect x="6" y="442" width="2" height="2" fill="#fff"/></g>
<g shape-rendering="crispEdges"><rect x="4" y="475" width="6" height="6" fill="#0000ff"/><rect x="6" y="477" width="2" height="2" fill="#fff"/></g>
<g shape-rendering="crispEdges"><polygon points="1307.5,26 1317.5,26 1312.5,31" fill="#000"/></g>
<g shape-rendering="crispEdges"><rect x="1642" y="47" width="2" height="1" fill="#000"/></g>
<text x="1647.5" y="51" font-size="10" fill="#000" stroke="#000" stroke-width="0.22" text-anchor="start" textLength="32" lengthAdjust="spacingAndGlyphs">171.700</text>
<g shape-rendering="crispEdges"><rect x="1642" y="80" width="2" height="1" fill="#000"/></g>
<text x="1647.5" y="84" font-size="10" fill="#000" stroke="#000" stroke-width="0.22" text-anchor="start" textLength="32" lengthAdjust="spacingAndGlyphs">171.190</text>
<g shape-rendering="crispEdges"><rect x="1642" y="113" width="2" height="1" fill="#000"/></g>
<text x="1647.5" y="117" font-size="10" fill="#000" stroke="#000" stroke-width="0.22" text-anchor="start" textLength="32" lengthAdjust="spacingAndGlyphs">170.665</text>
<g shape-rendering="crispEdges"><rect x="1642" y="146" width="2" height="1" fill="#000"/></g>
<text x="1647.5" y="150" font-size="10" fill="#000" stroke="#000" stroke-width="0.22" text-anchor="start" textLength="32" lengthAdjust="spacingAndGlyphs">170.140</text>
<g shape-rendering="crispEdges"><rect x="1642" y="179" width="2" height="1" fill="#000"/></g>
<text x="1647.5" y="183" font-size="10" fill="#000" stroke="#000" stroke-width="0.22" text-anchor="start" textLength="32" lengthAdjust="spacingAndGlyphs">169.630</text>
<g shape-rendering="crispEdges"><rect x="1642" y="212" width="2" height="1" fill="#000"/></g>
<text x="1647.5" y="216" font-size="10" fill="#000" stroke="#000" stroke-width="0.22" text-anchor="start" textLength="32" lengthAdjust="spacingAndGlyphs">169.105</text>
<g shape-rendering="crispEdges"><rect x="1642" y="245" width="2" height="1" fill="#000"/></g>
<text x="1647.5" y="249" font-size="10" fill="#000" stroke="#000" stroke-width="0.22" text-anchor="start" textLength="32" lengthAdjust="spacingAndGlyphs">168.580</text>
<g shape-rendering="crispEdges"><rect x="1642" y="278" width="2" height="1" fill="#000"/></g>
<text x="1647.5" y="282" font-size="10" fill="#000" stroke="#000" stroke-width="0.22" text-anchor="start" textLength="32" lengthAdjust="spacingAndGlyphs">168.070</text>
<g shape-rendering="crispEdges"><rect x="1642" y="311" width="2" height="1" fill="#000"/></g>
<text x="1647.5" y="315" font-size="10" fill="#000" stroke="#000" stroke-width="0.22" text-anchor="start" textLength="32" lengthAdjust="spacingAndGlyphs">167.545</text>
<g shape-rendering="crispEdges"><rect x="1642" y="344" width="2" height="1" fill="#000"/></g>
<text x="1647.5" y="348" font-size="10" fill="#000" stroke="#000" stroke-width="0.22" text-anchor="start" textLength="32" lengthAdjust="spacingAndGlyphs">167.020</text>
<g shape-rendering="crispEdges"><rect x="1642" y="377" width="2" height="1" fill="#000"/></g>
<text x="1647.5" y="381" font-size="10" fill="#000" stroke="#000" stroke-width="0.22" text-anchor="start" textLength="32" lengthAdjust="spacingAndGlyphs">166.495</text>
<g shape-rendering="crispEdges"><rect x="1642" y="410" width="2" height="1" fill="#000"/></g>
<text x="1647.5" y="414" font-size="10" fill="#000" stroke="#000" stroke-width="0.22" text-anchor="start" textLength="32" lengthAdjust="spacingAndGlyphs">165.970</text>
<g shape-rendering="crispEdges"><rect x="1642" y="443" width="2" height="1" fill="#000"/></g>
<text x="1647.5" y="447" font-size="10" fill="#000" stroke="#000" stroke-width="0.22" text-anchor="start" textLength="32" lengthAdjust="spacingAndGlyphs">165.445</text>
<g shape-rendering="crispEdges"><rect x="1642" y="476" width="2" height="1" fill="#000"/></g>
<text x="1647.5" y="480" font-size="10" fill="#000" stroke="#000" stroke-width="0.22" text-anchor="start" textLength="32" lengthAdjust="spacingAndGlyphs">164.950</text>
<g shape-rendering="crispEdges"><rect x="1642" y="509" width="2" height="1" fill="#000"/></g>
<text x="1647.5" y="513" font-size="10" fill="#000" stroke="#000" stroke-width="0.22" text-anchor="start" textLength="32" lengthAdjust="spacingAndGlyphs">164.425</text>
<g shape-rendering="crispEdges"><rect x="1642" y="542" width="2" height="1" fill="#000"/></g>
<text x="1647.5" y="546" font-size="10" fill="#000" stroke="#000" stroke-width="0.22" text-anchor="start" textLength="32" lengthAdjust="spacingAndGlyphs">163.900</text>
<g shape-rendering="crispEdges"><rect x="1642" y="575" width="2" height="1" fill="#000"/></g>
<text x="1647.5" y="579" font-size="10" fill="#000" stroke="#000" stroke-width="0.22" text-anchor="start" textLength="32" lengthAdjust="spacingAndGlyphs">163.375</text>
<g shape-rendering="crispEdges"><rect x="1642" y="608" width="2" height="1" fill="#000"/></g>
<text x="1647.5" y="612" font-size="10" fill="#000" stroke="#000" stroke-width="0.22" text-anchor="start" textLength="32" lengthAdjust="spacingAndGlyphs">162.865</text>
<g shape-rendering="crispEdges"><rect x="1643" y="313" width="41" height="11" fill="#ff0000"/></g>
<text x="1647.5" y="321.5" font-size="10" fill="#fff" stroke="#fff" stroke-width="0.22" text-anchor="start" textLength="32" lengthAdjust="spacingAndGlyphs">167.417</text>
<g shape-rendering="crispEdges"><rect x="1643" y="348" width="41" height="11" fill="#ff0000"/></g>
<text x="1647.5" y="356.5" font-size="10" fill="#fff" stroke="#fff" stroke-width="0.22" text-anchor="start" textLength="32" lengthAdjust="spacingAndGlyphs">166.866</text>
<g shape-rendering="crispEdges"><rect x="1643" y="387" width="41" height="11" fill="#000000"/></g>
<text x="1647.5" y="395.5" font-size="10" fill="#fff" stroke="#fff" stroke-width="0.22" text-anchor="start" textLength="32" lengthAdjust="spacingAndGlyphs">166.263</text>
<g shape-rendering="crispEdges"><rect x="1643" y="402" width="41" height="11" fill="#ffa500"/></g>
<text x="1647.5" y="410.5" font-size="10" fill="#fff" stroke="#fff" stroke-width="0.22" text-anchor="start" textLength="32" lengthAdjust="spacingAndGlyphs">166.016</text>
<g shape-rendering="crispEdges"><rect x="1643" y="437" width="41" height="11" fill="#0000ff"/></g>
<text x="1647.5" y="445.5" font-size="10" fill="#fff" stroke="#fff" stroke-width="0.22" text-anchor="start" textLength="32" lengthAdjust="spacingAndGlyphs">165.465</text>
<g shape-rendering="crispEdges"><rect x="1643" y="472" width="41" height="11" fill="#0000ff"/></g>
<text x="1647.5" y="480.5" font-size="10" fill="#fff" stroke="#fff" stroke-width="0.22" text-anchor="start" textLength="32" lengthAdjust="spacingAndGlyphs">164.914</text>
<g shape-rendering="crispEdges"><rect x="1642" y="615" width="1" height="1" fill="#000"/></g>
<text x="1645" y="623.5" font-size="10" fill="#000" stroke="#000" stroke-width="0.22" text-anchor="start" textLength="27" lengthAdjust="spacingAndGlyphs">0.7767</text>
<g shape-rendering="crispEdges"><rect x="1642" y="657" width="2" height="1" fill="#000"/></g>
<text x="1645" y="661.5" font-size="10" fill="#000" stroke="#000" stroke-width="0.22" text-anchor="start" textLength="17" lengthAdjust="spacingAndGlyphs">0.00</text>
<g shape-rendering="crispEdges"><rect x="1642" y="727" width="1" height="1" fill="#000"/></g>
<text x="1645" y="724.5" font-size="10" fill="#000" stroke="#000" stroke-width="0.22" text-anchor="start" textLength="31" lengthAdjust="spacingAndGlyphs">-1.2542</text>
<g shape-rendering="crispEdges"><rect x="1642" y="732" width="1" height="1" fill="#000"/></g>
<text x="1645" y="741" font-size="10" fill="#000" stroke="#000" stroke-width="0.22" text-anchor="start" textLength="15" lengthAdjust="spacingAndGlyphs">100</text>
<g shape-rendering="crispEdges"><rect x="1642" y="753" width="2" height="1" fill="#000"/></g>
<text x="1645" y="757" font-size="10" fill="#000" stroke="#000" stroke-width="0.22" text-anchor="start" textLength="10" lengthAdjust="spacingAndGlyphs">80</text>
<g shape-rendering="crispEdges"><rect x="1642" y="785" width="2" height="1" fill="#000"/></g>
<text x="1645" y="789" font-size="10" fill="#000" stroke="#000" stroke-width="0.22" text-anchor="start" textLength="10" lengthAdjust="spacingAndGlyphs">50</text>
<g shape-rendering="crispEdges"><rect x="1642" y="823" width="2" height="1" fill="#000"/></g>
<text x="1645" y="827" font-size="10" fill="#000" stroke="#000" stroke-width="0.22" text-anchor="start" textLength="10" lengthAdjust="spacingAndGlyphs">15</text>
<text x="1645" y="837.5" font-size="10" fill="#000" stroke="#000" stroke-width="0.22" text-anchor="start" textLength="5" lengthAdjust="spacingAndGlyphs">0</text>
<g shape-rendering="crispEdges"><rect x="5" y="841" width="1" height="3" fill="#000"/></g>
<text x="4.5" y="853" font-size="10" fill="#000" stroke="#000" stroke-width="0.22" text-anchor="start" textLength="50.5" lengthAdjust="spacingAndGlyphs">31 Oct 2022</text>
<g shape-rendering="crispEdges"><rect x="69" y="841" width="1" height="3" fill="#000"/></g>
<text x="68" y="853" font-size="10" fill="#000" stroke="#000" stroke-width="0.22" text-anchor="start" textLength="51.5" lengthAdjust="spacingAndGlyphs">1 Nov 04:00</text>
<g shape-rendering="crispEdges"><rect x="133" y="841" width="1" height="3" fill="#000"/></g>
<text x="132" y="853" font-size="10" fill="#000" stroke="#000" stroke-width="0.22" text-anchor="start" textLength="51.5" lengthAdjust="spacingAndGlyphs">1 Nov 20:00</text>
<g shape-rendering="crispEdges"><rect x="197" y="841" width="1" height="3" fill="#000"/></g>
<text x="196" y="853" font-size="10" fill="#000" stroke="#000" stroke-width="0.22" text-anchor="start" textLength="51.5" lengthAdjust="spacingAndGlyphs">2 Nov 12:00</text>
<g shape-rendering="crispEdges"><rect x="261" y="841" width="1" height="3" fill="#000"/></g>
<text x="260" y="853" font-size="10" fill="#000" stroke="#000" stroke-width="0.22" text-anchor="start" textLength="51.5" lengthAdjust="spacingAndGlyphs">3 Nov 04:00</text>
<g shape-rendering="crispEdges"><rect x="325" y="841" width="1" height="3" fill="#000"/></g>
<text x="324" y="853" font-size="10" fill="#000" stroke="#000" stroke-width="0.22" text-anchor="start" textLength="51.5" lengthAdjust="spacingAndGlyphs">3 Nov 20:00</text>
<g shape-rendering="crispEdges"><rect x="389" y="841" width="1" height="3" fill="#000"/></g>
<text x="388" y="853" font-size="10" fill="#000" stroke="#000" stroke-width="0.22" text-anchor="start" textLength="51.5" lengthAdjust="spacingAndGlyphs">4 Nov 12:00</text>
<g shape-rendering="crispEdges"><rect x="453" y="841" width="1" height="3" fill="#000"/></g>
<text x="452" y="853" font-size="10" fill="#000" stroke="#000" stroke-width="0.22" text-anchor="start" textLength="51.5" lengthAdjust="spacingAndGlyphs">7 Nov 04:00</text>
<g shape-rendering="crispEdges"><rect x="517" y="841" width="1" height="3" fill="#000"/></g>
<text x="516" y="853" font-size="10" fill="#000" stroke="#000" stroke-width="0.22" text-anchor="start" textLength="51.5" lengthAdjust="spacingAndGlyphs">7 Nov 20:00</text>
<g shape-rendering="crispEdges"><rect x="581" y="841" width="1" height="3" fill="#000"/></g>
<text x="580" y="853" font-size="10" fill="#000" stroke="#000" stroke-width="0.22" text-anchor="start" textLength="51.5" lengthAdjust="spacingAndGlyphs">8 Nov 12:00</text>
<g shape-rendering="crispEdges"><rect x="645" y="841" width="1" height="3" fill="#000"/></g>
<text x="644" y="853" font-size="10" fill="#000" stroke="#000" stroke-width="0.22" text-anchor="start" textLength="51.5" lengthAdjust="spacingAndGlyphs">9 Nov 04:00</text>
<g shape-rendering="crispEdges"><rect x="709" y="841" width="1" height="3" fill="#000"/></g>
<text x="708" y="853" font-size="10" fill="#000" stroke="#000" stroke-width="0.22" text-anchor="start" textLength="51.5" lengthAdjust="spacingAndGlyphs">9 Nov 20:00</text>
<g shape-rendering="crispEdges"><rect x="773" y="841" width="1" height="3" fill="#000"/></g>
<text x="772" y="853" font-size="10" fill="#000" stroke="#000" stroke-width="0.22" text-anchor="start" textLength="56.5" lengthAdjust="spacingAndGlyphs">10 Nov 12:00</text>
<g shape-rendering="crispEdges"><rect x="837" y="841" width="1" height="3" fill="#000"/></g>
<text x="836" y="853" font-size="10" fill="#000" stroke="#000" stroke-width="0.22" text-anchor="start" textLength="56.5" lengthAdjust="spacingAndGlyphs">11 Nov 04:00</text>
<g shape-rendering="crispEdges"><rect x="901" y="841" width="1" height="3" fill="#000"/></g>
<text x="900" y="853" font-size="10" fill="#000" stroke="#000" stroke-width="0.22" text-anchor="start" textLength="56.5" lengthAdjust="spacingAndGlyphs">13 Nov 23:00</text>
<g shape-rendering="crispEdges"><rect x="965" y="841" width="1" height="3" fill="#000"/></g>
<text x="964" y="853" font-size="10" fill="#000" stroke="#000" stroke-width="0.22" text-anchor="start" textLength="56.5" lengthAdjust="spacingAndGlyphs">14 Nov 12:00</text>
<g shape-rendering="crispEdges"><rect x="1029" y="841" width="1" height="3" fill="#000"/></g>
<text x="1028" y="853" font-size="10" fill="#000" stroke="#000" stroke-width="0.22" text-anchor="start" textLength="56.5" lengthAdjust="spacingAndGlyphs">15 Nov 04:00</text>
<g shape-rendering="crispEdges"><rect x="1093" y="841" width="1" height="3" fill="#000"/></g>
<text x="1092" y="853" font-size="10" fill="#000" stroke="#000" stroke-width="0.22" text-anchor="start" textLength="56.5" lengthAdjust="spacingAndGlyphs">15 Nov 20:00</text>
<g shape-rendering="crispEdges"><rect x="1157" y="841" width="1" height="3" fill="#000"/></g>
<text x="1156" y="853" font-size="10" fill="#000" stroke="#000" stroke-width="0.22" text-anchor="start" textLength="56.5" lengthAdjust="spacingAndGlyphs">16 Nov 12:00</text>
<g shape-rendering="crispEdges"><rect x="1221" y="841" width="1" height="3" fill="#000"/></g>
<text x="1220" y="853" font-size="10" fill="#000" stroke="#000" stroke-width="0.22" text-anchor="start" textLength="56.5" lengthAdjust="spacingAndGlyphs">17 Nov 04:00</text>
<g shape-rendering="crispEdges"><rect x="1285" y="841" width="1" height="3" fill="#000"/></g>
<text x="1284" y="853" font-size="10" fill="#000" stroke="#000" stroke-width="0.22" text-anchor="start" textLength="56.5" lengthAdjust="spacingAndGlyphs">17 Nov 20:00</text>
<g shape-rendering="crispEdges"><polygon points="7.8,31.8 15.2,31.8 11.5,36.2" fill="#000"/></g>
<text x="20.5" y="37" font-size="10" fill="#000" stroke="#000" stroke-width="0.22" text-anchor="start" textLength="200" lengthAdjust="spacingAndGlyphs" xml:space="preserve">GBPJPY-,H4&#160;&#160;166.162 166.320 166.069 166.263</text>
<text x="9" y="626" font-size="10" fill="#000" stroke="#000" stroke-width="0.22" text-anchor="start" textLength="128.5" lengthAdjust="spacingAndGlyphs">MACD(12,26,9) 0.1129 0.0272</text>
<text x="9" y="743" font-size="10" fill="#000" stroke="#000" stroke-width="0.22" text-anchor="start" textLength="68" lengthAdjust="spacingAndGlyphs">RSI(14) 55.4161</text>
</svg></body></html>
